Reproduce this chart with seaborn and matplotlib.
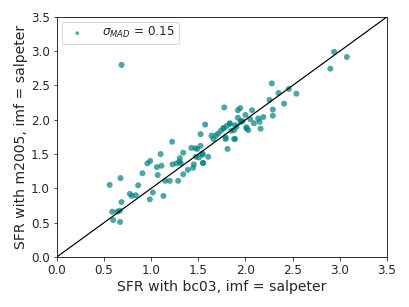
import numpy as np
import pandas as pd
import matplotlib
matplotlib.use("Agg")
import matplotlib.pyplot as plt
import seaborn as sns

# SFR values
sfr_bc03 = [
    0.56, 0.675, 0.587, 0.597, 0.671, 0.64, 0.686, 0.668, 0.774, 0.795,
    0.838, 0.862, 0.908, 0.96, 0.99, 1.10, 0.986, 1.018, 1.06, 1.07,
    1.11, 1.13, 1.15, 1.198, 1.223, 1.227, 1.286, 1.27, 1.30, 1.304,
    1.315, 1.34, 1.34, 1.39, 1.425, 1.445, 1.453, 1.467, 1.49, 1.474,
    1.506, 1.524, 1.524, 1.545, 1.55, 1.573, 1.605, 1.64, 1.66, 1.686,
    1.71, 1.765, 1.79, 1.81, 1.835, 1.89, 1.905, 1.95, 2.01, 1.74,
    1.775, 1.77, 1.80, 1.79, 1.835, 1.85, 1.88, 1.88, 1.89, 1.92,
    1.92, 1.945, 1.95, 1.97, 2.00, 2.01, 2.03, 2.05, 2.07, 2.09,
    2.135, 2.15, 2.16, 2.19, 2.255, 2.28, 2.29, 2.29, 2.35, 2.41,
    2.46, 2.54, 2.90, 2.94, 3.075, 0.686, 1.55, 1.545,
]
sfr_m2005 = [
    1.05, 1.15, 0.66, 0.54, 0.51, 0.66, 0.80, 0.675, 0.92, 0.89,
    0.90, 1.045, 1.22, 1.365, 1.40, 1.50, 0.84, 0.94, 1.31, 1.195,
    1.33, 0.89, 1.11, 1.11, 1.68, 1.35, 1.11, 1.365, 1.39, 1.44,
    1.365, 1.52, 1.205, 1.27, 1.59, 1.30, 1.35, 1.585, 1.575, 1.46,
    1.45, 1.79, 1.62, 1.51, 1.37, 1.93, 1.46, 1.77, 1.72, 1.77,
    1.80, 1.875, 1.72, 1.575, 1.94, 1.72, 1.90, 1.98, 1.875, 1.84,
    2.18, 1.88, 1.91, 1.745, 1.95, 1.84, 1.72, 1.85, 1.92, 2.03,
    2.14, 2.17, 1.97, 1.98, 2.07, 1.89, 1.85, 2.01, 2.14, 1.95,
    2.02, 1.97, 1.87, 2.04, 2.29, 2.53, 2.15, 2.06, 2.39, 2.235,
    2.45, 2.38, 2.745, 2.99, 2.915, 2.80, 1.37, 1.49,
]
sigma_mad = 0.15
lims = [0.0, 3.5]

df = pd.DataFrame({"bc03": sfr_bc03, "m2005": sfr_m2005})

sns.set_style("ticks")
plt.rcParams["font.family"] = ["DejaVu Sans"]

fig, ax = plt.subplots(figsize=(409 / 72, 307 / 72), dpi=72)
fig.subplots_adjust(left=0.139, right=0.946, top=0.945, bottom=0.163)

sns.scatterplot(data=df, x="bc03", y="m2005", ax=ax, color="teal", alpha=0.7,
                s=36, edgecolor="none", label=rf"$\sigma_{{MAD}}$ = {sigma_mad:.2f}")
ax.plot(lims, lims, color="black", lw=1.2)

ax.set_xlim(lims)
ax.set_ylim(lims)
ax.set_xticks(np.arange(0, 3.51, 0.5))
ax.set_yticks(np.arange(0, 3.51, 0.5))
ax.tick_params(labelsize=12)
ax.set_xlabel("SFR with bc03, imf = salpeter", fontsize=14, labelpad=3)
ax.set_ylabel("SFR with m2005, imf = salpeter", fontsize=14, labelpad=3)
ax.legend(loc="upper left", fontsize=12, markerscale=0.6, borderpad=0.3,
          handletextpad=1.1, borderaxespad=0.4)
for sp in ax.spines.values():
    sp.set_color("black")

plt.savefig("out.png", dpi=72)
